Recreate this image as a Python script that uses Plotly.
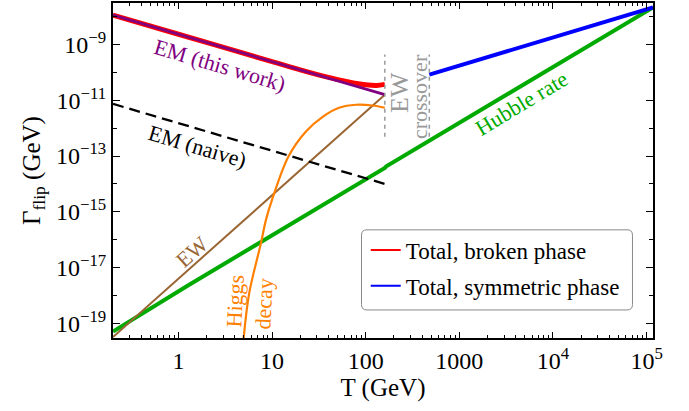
import numpy as np
import plotly.graph_objects as go

# ---------------- data ----------------
T_em = [0.2, 1, 10, 100, 160]
G_em = [1.14e-8, 2.34e-9, 2.43e-10, 2.5e-11, 1.6e-11]

T_broken = [0.2, 1, 10, 20, 40, 60, 80, 100, 130, 160]
G_broken = [1.14e-8, 2.34e-9, 2.45e-10, 1.24e-10, 6.6e-11, 4.85e-11, 4.0e-11, 3.6e-11, 3.42e-11, 3.72e-11]

T_naive = [0.2, 10, 160]
G_naive = [7.4e-12, 1.58e-13, 1.0e-14]

T_ew = [0.2, 10, 160]
G_ew = [3.2e-20, 3.8e-15, 1.58e-11]

T_higgs = [4.95, 5.7, 7.6, 8.6, 10, 15, 23, 35, 52, 79, 118, 160]
G_higgs = [2.5e-20, 1.2e-18, 7.4e-17, 5.1e-16, 2.7e-15, 9.8e-14, 7.6e-13, 2.6e-12,
           5.4e-12, 6.9e-12, 6.5e-12, 5.4e-12]

T_hubble = [0.2, 1.2, 1.25, 160, 166, 1.17e5]
G_hubble = [5.0e-20, 1.95e-18, 2.2e-18, 3.75e-14, 4.25e-14, 2.13e-8]

T_sym = [478, 1.17e5]
G_sym = [8.3e-11, 2.14e-8]

T_cross = [160, 478]
G_cross_lo, G_cross_hi = 4.9e-13, 4.37e-10

x_major = [1, 10, 100, 1000, 1e4, 1e5]
x_major_text = ["1", "10", "100", "1000", "10<sup>4</sup>", "10<sup>5</sup>"]
x_minor = [m * 10.0**k for k in range(-1, 6) for m in range(2, 10) if 0.19 < m * 10.0**k < 1.2e5]
y_major_exp = [-19, -17, -15, -13, -11, -9]
y_minor_exp = [-18, -16, -14, -12, -10, -8]

# ---------------- figure ----------------
FONT = "'Liberation Serif', 'Times New Roman', Times, serif"
fig = go.Figure()

fig.add_trace(go.Scatter(x=T_hubble, y=G_hubble, mode="lines",
                         line=dict(color="#00aa00", width=4), showlegend=False))
fig.add_trace(go.Scatter(x=T_sym, y=G_sym, mode="lines",
                         line=dict(color="#0000ff", width=4), showlegend=False))
fig.add_trace(go.Scatter(x=T_ew, y=G_ew, mode="lines",
                         line=dict(color="#996633", width=2), showlegend=False))
fig.add_trace(go.Scatter(x=T_higgs, y=G_higgs, mode="lines", line_shape="spline",
                         line=dict(color="#ff8000", width=2.2), showlegend=False))
fig.add_trace(go.Scatter(x=T_naive, y=G_naive, mode="lines",
                         line=dict(color="black", width=2.3, dash="11px,6px"), showlegend=False))
fig.add_trace(go.Scatter(x=T_broken, y=G_broken, mode="lines", line_shape="spline",
                         line=dict(color="#ff0000", width=5), showlegend=False))
fig.add_trace(go.Scatter(x=T_em, y=G_em, mode="lines",
                         line=dict(color="#800080", width=2.7), showlegend=False))
for t in T_cross:
    fig.add_trace(go.Scatter(x=[t, t], y=[G_cross_lo, G_cross_hi], mode="lines",
                             line=dict(color="#999999", width=1.5, dash="4px,4px"),
                             showlegend=False))

# legend entries (thin line samples, as in the reference)
fig.add_trace(go.Scatter(x=[None], y=[None], mode="lines", name="Total, broken phase",
                         line=dict(color="#ff0000", width=2), legendgroup="a"))
fig.add_trace(go.Scatter(x=[None], y=[None], mode="lines", name="Total, symmetric phase",
                         line=dict(color="#0000ff", width=2), legendgroup="b"))

def ann(text, x, y, color, angle, size=22):
    fig.add_annotation(x=np.log10(x), y=np.log10(y), text=text, showarrow=False,
                       textangle=angle, xanchor="center", yanchor="middle",
                       font=dict(family=FONT, size=size, color=color))

ann("EM (this work)", 10**0.449, 10**-9.756, "#800080", 16.5)
ann("EM (naive)", 10**0.203, 10**-12.666, "black", 16.5)
ann("EW", 10**0.150, 10**-16.44, "#996633", -42)
ann("Higgs", 10**0.609, 10**-18.20, "#ff8000", -87)
ann("decay", 10**0.908, 10**-18.31, "#ff8000", -87)
ann("EW", 10**2.360, 10**-10.726, "#999999", -90, size=26)
ann("crossover", 10**2.574, 10**-10.87, "#999999", -90)
ann("Hubble rate", 10**3.662, 10**-11.12, "#00aa00", -31)

# rounded legend frame
x0, x1, y0, y1 = 0.4602, 0.962, 0.0837, 0.3229
rx, ry = 0.010, 0.016
path = (f"M {x0+rx},{y0} L {x1-rx},{y0} Q {x1},{y0} {x1},{y0+ry} "
        f"L {x1},{y1-ry} Q {x1},{y1} {x1-rx},{y1} L {x0+rx},{y1} "
        f"Q {x0},{y1} {x0},{y1-ry} L {x0},{y0+ry} Q {x0},{y0} {x0+rx},{y0} Z")
fig.add_shape(type="path", path=path, xref="paper", yref="paper",
              line=dict(color="#888888", width=1), fillcolor="white", layer="above")

axis_common = dict(showline=True, linecolor="black", linewidth=2, mirror="allticks",
                   ticks="inside", tickcolor="black", tickwidth=1, showgrid=False,
                   zeroline=False, tickfont=dict(family=FONT, size=24, color="black"))

fig.update_xaxes(type="log", range=[np.log10(0.2), np.log10(1.17e5)],
                 tickmode="array", tickvals=x_major, ticktext=x_major_text, ticklen=6,
                 minor=dict(tickmode="array", tickvals=x_minor, ticks="inside", ticklen=3,
                            tickcolor="black", tickwidth=1),
                 title=dict(text="T (GeV)", font=dict(family=FONT, size=25, color="black"),
                            standoff=6),
                 **axis_common)
fig.update_yaxes(type="log", range=[-19.53, -7.51],
                 tickmode="array", tickvals=[10.0**e for e in y_major_exp],
                 ticktext=[f"10<sup>\u2212{-e}</sup>" for e in y_major_exp], ticklen=7,
                 minor=dict(tickmode="array", tickvals=[10.0**e for e in y_minor_exp],
                            ticks="inside", ticklen=4, tickcolor="black", tickwidth=1),
                 title=dict(text="\u0393<sub>flip</sub> (GeV)",
                            font=dict(family=FONT, size=25, color="black"), standoff=8),
                 **axis_common)

fig.update_layout(
    width=689, height=411,
    margin=dict(l=113, r=36, t=3, b=73, autoexpand=False),
    paper_bgcolor="white", plot_bgcolor="white",
    showlegend=True,
    legend=dict(x=0.468, y=0.327, xanchor="left", yanchor="top",
                bgcolor="rgba(0,0,0,0)", borderwidth=0, tracegroupgap=3,
                font=dict(family=FONT, size=23, color="black")),
)

fig.write_html("out.html", config={"displayModeBar": False},
               post_script="document.body.style.margin='0';")
